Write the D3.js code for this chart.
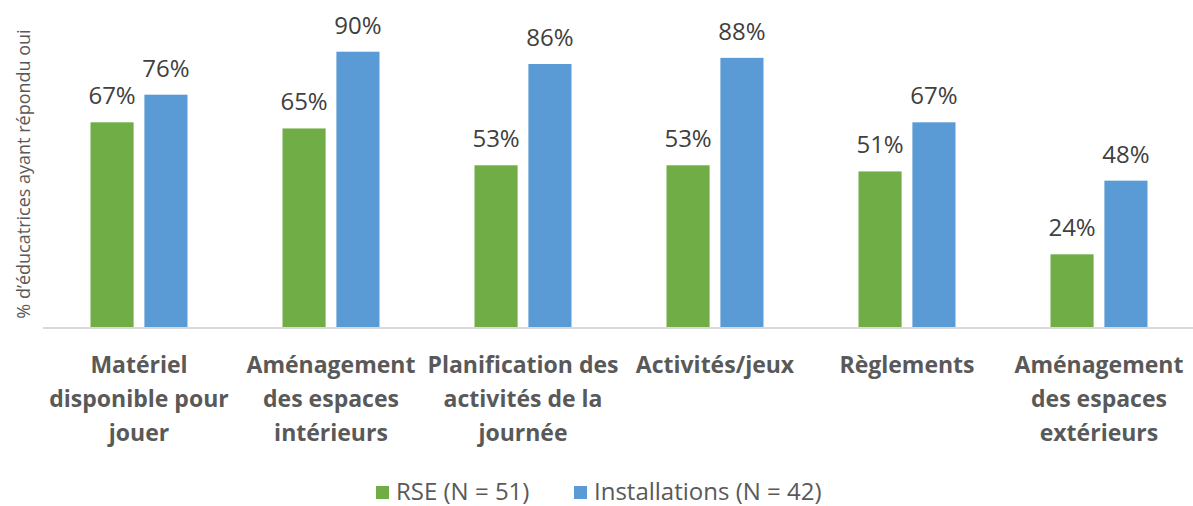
<!DOCTYPE html>
<html>
<head>
<meta charset="utf-8">
<script src="https://cdn.jsdelivr.net/npm/d3@7"></script>
<style>
  body { margin: 0; background: #fff; }
  svg { font-family: "Open Sans", "Noto Sans", sans-serif; }
</style>
</head>
<body>
<svg id="chart" width="1193" height="506"></svg>
<script>
const width = 1193;
const height = 506;

// data
const categories = [
    ["Matériel", "disponible pour", "jouer"],
    ["Aménagement", "des espaces", "intérieurs"],
    ["Planification des", "activités de la", "journée"],
    ["Activités/jeux"],
    ["Règlements"],
    ["Aménagement", "des espaces", "extérieurs"]
];
const seriesNames = ["RSE (N = 51)", "Installations (N = 42)"];
const rseValues = [67, 65, 53, 53, 51, 24];
const installValues = [76, 90, 86, 88, 67, 48];
const colors = ["#70AD47", "#5B9BD5"];

const svg = d3.select("#chart");

const catIds = d3.range(categories.length);
const x0 = d3.scaleBand()
    .domain(catIds)
    .range([43, 1195]);

const x1 = d3.scaleBand()
    .domain([0, 1])
    .range([47.5, 144.5])
    .paddingInner(0.2);

const y = d3.scaleLinear()
    .domain([0, 100])
    .range([328, 21]);

const seriesValues = [rseValues, installValues];

// bars
const groups = svg.selectAll("g.grp")
    .data(catIds)
    .enter()
    .append("g")
    .attr("class", "grp")
    .attr("transform", d => `translate(${x0(d)},0)`);

groups.selectAll("rect")
    .data(i => seriesValues.map((vals, s) => ({ s, v: vals[i] })))
    .enter()
    .append("rect")
    .attr("x", d => x1(d.s))
    .attr("y", d => y(d.v))
    .attr("width", x1.bandwidth())
    .attr("height", d => y(0) - y(d.v))
    .attr("fill", d => colors[d.s]);

groups.selectAll("text.val")
    .data(i => seriesValues.map((vals, s) => ({ s, v: vals[i] })))
    .enter()
    .append("text")
    .attr("class", "val")
    .attr("x", d => x1(d.s) + x1.bandwidth() / 2)
    .attr("y", d => y(d.v) - 18)
    .attr("text-anchor", "middle")
    .attr("font-size", 24)
    .attr("fill", "#404040")
    .text(d => d.v + "%");

// axis line
svg.append("line")
    .attr("x1", 43)
    .attr("x2", 1193)
    .attr("y1", y(0))
    .attr("y2", y(0))
    .attr("stroke", "#D9D9D9")
    .attr("stroke-width", 2);

// category labels
const catLabels = svg.selectAll("text.cat")
    .data(catIds)
    .enter()
    .append("text")
    .attr("class", "cat")
    .attr("text-anchor", "middle")
    .attr("font-size", 23)
    .attr("font-weight", "bold")
    .attr("fill", "#595959");

catLabels.selectAll("tspan")
    .data(i => categories[i].map(line => ({ i, line })))
    .enter()
    .append("tspan")
    .attr("x", d => x0(d.i) + x0.bandwidth() / 2)
    .attr("y", (d, k) => 373 + k * 34)
    .text(d => d.line);

// y axis title
svg.append("text")
    .attr("transform", "translate(30,174) rotate(-90)")
    .attr("text-anchor", "middle")
    .attr("font-size", 18)
    .attr("fill", "#595959")
    .text("% d’éducatrices ayant répondu oui");

// legend
const legendX = [376, 574];
const legend = svg.selectAll("g.leg")
    .data(seriesNames)
    .enter()
    .append("g")
    .attr("class", "leg")
    .attr("transform", (d, i) => `translate(${legendX[i]},486)`);

legend.append("rect")
    .attr("width", 13)
    .attr("height", 13)
    .attr("fill", (d, i) => colors[i]);

legend.append("text")
    .attr("x", 20)
    .attr("y", 14)
    .attr("font-size", 24)
    .attr("fill", "#595959")
    .text(d => d);
</script>
</body>
</html>
